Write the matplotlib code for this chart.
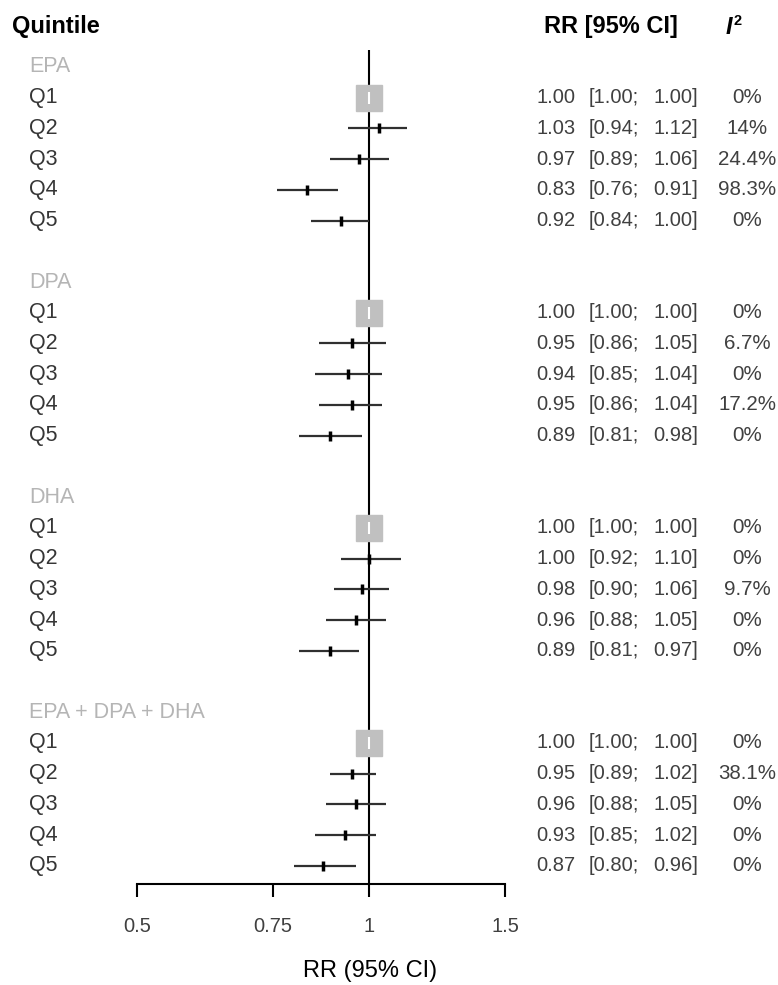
import matplotlib
matplotlib.use("Agg")
import matplotlib.pyplot as plt
import matplotlib.transforms as mtransforms
from matplotlib.ticker import NullLocator, FixedLocator, FixedFormatter

plt.rcParams['font.family'] = ['Liberation Sans', 'DejaVu Sans']

groups = ["EPA", "DPA", "DHA", "EPA + DPA + DHA"]
quintiles = ["Q1", "Q2", "Q3", "Q4", "Q5"]

rr_epa = [1.00, 1.03, 0.97, 0.83, 0.92]
lo_epa = [1.00, 0.94, 0.89, 0.76, 0.84]
hi_epa = [1.00, 1.12, 1.06, 0.91, 1.00]
i2_epa = ["0%", "14%", "24.4%", "98.3%", "0%"]

rr_dpa = [1.00, 0.95, 0.94, 0.95, 0.89]
lo_dpa = [1.00, 0.86, 0.85, 0.86, 0.81]
hi_dpa = [1.00, 1.05, 1.04, 1.04, 0.98]
i2_dpa = ["0%", "6.7%", "0%", "17.2%", "0%"]

rr_dha = [1.00, 1.00, 0.98, 0.96, 0.89]
lo_dha = [1.00, 0.92, 0.90, 0.88, 0.81]
hi_dha = [1.00, 1.10, 1.06, 1.05, 0.97]
i2_dha = ["0%", "0%", "9.7%", "0%", "0%"]

rr_all = [1.00, 0.95, 0.96, 0.93, 0.87]
lo_all = [1.00, 0.89, 0.88, 0.85, 0.80]
hi_all = [1.00, 1.02, 1.05, 1.02, 0.96]
i2_all = ["0%", "38.1%", "0%", "0%", "0%"]

xticks = [0.5, 0.75, 1, 1.5]
xticklabels = ["0.5", "0.75", "1", "1.5"]

data = [
    (rr_epa, lo_epa, hi_epa, i2_epa),
    (rr_dpa, lo_dpa, hi_dpa, i2_dpa),
    (rr_dha, lo_dha, hi_dha, i2_dha),
    (rr_all, lo_all, hi_all, i2_all),
]

W, H = 778, 985
fig = plt.figure(figsize=(W / 100, H / 100), dpi=100)
ax = fig.add_axes([137 / W, (H - 884) / H, 368 / W, (884 - 50) / H])
ax.set_xscale('log')
ax.set_xlim(0.5, 1.5)
ax.set_ylim(26.59, -0.55)

for s in ['top', 'right', 'left']:
    ax.spines[s].set_visible(False)
ax.spines['bottom'].set_linewidth(1.5)
ax.spines['bottom'].set_bounds(0.5, 1.5)
ax.set_yticks([])
ax.xaxis.set_major_locator(FixedLocator(xticks))
ax.xaxis.set_major_formatter(FixedFormatter(xticklabels))
ax.xaxis.set_minor_locator(NullLocator())
ax.tick_params(axis='x', length=9, width=1.5, color='black', pad=15,
               labelsize=14.5, labelcolor='#404040')

ax.axvline(1, color='black', lw=1.5, zorder=2)

trans = mtransforms.blended_transform_factory(fig.transFigure, ax.transData)
lab_col = '#363636'
num_col = '#404040'
hdr_col = '#b5b5b5'
fs_lab = 15.5
fs_num = 14.5

for gi, (g, (rr, lo, hi, i2)) in enumerate(zip(groups, data)):
    base = gi * 7
    ax.text(29 / W, base, g, transform=trans, ha='left', va='center',
            fontsize=fs_lab, color=hdr_col, clip_on=False)
    for qi, q in enumerate(quintiles):
        y = base + 1 + qi
        ax.text(29 / W, y, q, transform=trans, ha='left', va='center',
                fontsize=fs_lab, color=lab_col, clip_on=False)
        if lo[qi] == hi[qi]:
            ax.plot([rr[qi]], [y], marker='s', ms=18.5, color='#c0c0c0',
                    mec='#c0c0c0', zorder=4, clip_on=False)
            ax.plot([rr[qi]], [y], marker='|', ms=8, mew=1.5, color='white',
                    zorder=5, clip_on=False)
        else:
            ax.plot([lo[qi], hi[qi]], [y, y], color='#303030', lw=1.6,
                    zorder=3, solid_capstyle='butt')
            ax.plot([rr[qi]], [y], marker='|', ms=7, mew=2.5, color='black',
                    zorder=4)
        ax.text(536 / W, y, f"{rr[qi]:.2f}", transform=trans, ha='left',
                va='center', fontsize=fs_num, color=num_col, clip_on=False)
        ax.text(589 / W, y, f"[{lo[qi]:.2f};", transform=trans, ha='left',
                va='center', fontsize=fs_num, color=num_col, clip_on=False)
        ax.text(698 / W, y, f"{hi[qi]:.2f}]", transform=trans, ha='right',
                va='center', fontsize=fs_num, color=num_col, clip_on=False)
        ax.text(747 / W, y, i2[qi], transform=trans, ha='center',
                va='center', fontsize=fs_num + 0.3, color=num_col, clip_on=False)

fig.text(12 / W, 1 - 27 / H, "Quintile", ha='left', va='center',
         fontsize=17, fontweight='bold', color='black')
fig.text(611 / W, 1 - 27 / H, "RR [95% CI]", ha='center', va='center',
         fontsize=17, fontweight='bold', color='black')
fig.text(726 / W, 1 - 27 / H, "I", ha='left', va='center',
         fontsize=17, fontweight='bold', fontstyle='italic', color='black')
fig.text(734 / W, 1 - 21 / H, "2", ha='left', va='center',
         fontsize=10.5, fontweight='bold', color='black')

fig.text(370 / W, 1 - 971 / H, "RR (95% CI)", ha='center', va='center',
         fontsize=17, color='black')

fig.savefig("out.png", dpi=100)
